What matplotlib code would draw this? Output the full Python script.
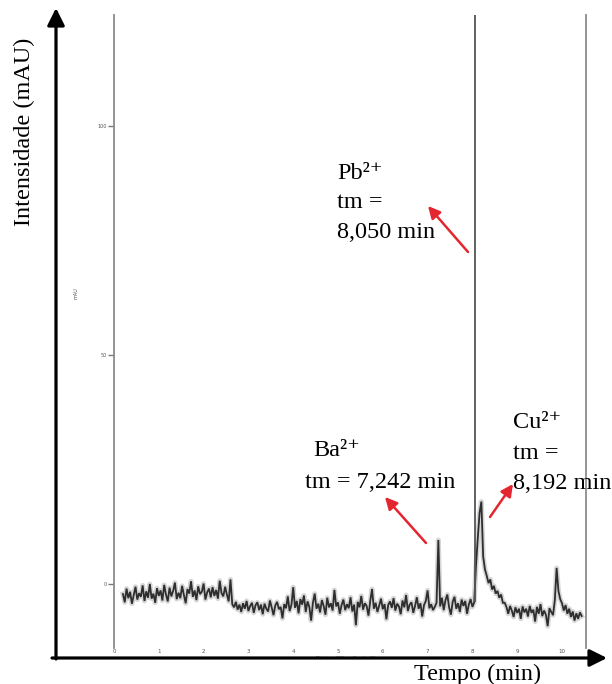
import numpy as np
import matplotlib
matplotlib.use('Agg')
import matplotlib.pyplot as plt

plt.rcParams['font.family'] = ['Liberation Serif', 'DejaVu Serif']

# ---------------- data ----------------
t_start = 0.20      # min
t_step = 0.04       # min
signal = [
    # 0.20 - 1.16
    -2.2, -4.0, -1.0, -3.1, -1.7, -4.3, -2.4, -0.6, -3.4, -2.0, -2.8, -0.3, -3.7,
    -1.6, -3.0, 0.0, -3.2, -2.1, -4.1, -0.9, -2.6, -1.4, -3.6, -0.2, -2.3,
    # 1.20 - 2.16
    -3.8, -0.8, -2.7, -1.5, 0.3, -3.3, -1.9, -3.1, -0.4, -2.4, -4.2, -1.1, -2.1,
    0.6, -2.8, -1.4, -3.5, -0.5, -2.2, -1.7, 0.1, -3.4, -1.8, -1.0, -2.9,
    # 2.20 - 3.16
    -0.7, -2.6, -1.3, -3.2, 0.7, -2.0, -2.7, -0.6, -2.3, -3.8, 1.0, -4.4, -5.1,
    -3.9, -5.6, -4.5, -6.1, -4.2, -5.4, -3.7, -5.9, -4.8, -4.1, -6.3, -4.6,
    # 3.20 - 4.16
    -4.0, -5.7, -4.5, -6.6, -4.3, -5.4, -6.0, -3.6, -5.1, -6.8, -4.7, -3.9, -5.5,
    -5.0, -7.5, -4.4, -5.3, -2.7, -5.9, -4.6, -0.7, -5.2, -3.7, -6.4, -3.3,
    # 4.20 - 5.16
    -4.5, -2.5, -6.1, -3.8, -5.0, -8.0, -4.1, -2.1, -5.4, -4.3, -6.2, -3.5, -4.8,
    -6.7, -3.0, -5.1, -4.2, -5.8, -1.3, -4.9, -4.0, -6.5, -4.6, -3.4, -5.7,
    # 5.20 - 6.16
    -4.4, -5.3, -2.9, -6.0, -4.5, -9.0, -3.9, -5.1, -2.6, -5.6, -4.2, -4.8, -6.9,
    -3.7, -1.1, -5.4, -4.1, -6.1, -4.7, -3.2, -5.5, -4.4, -7.7, -4.6, -3.8,
    # 6.20 - 7.16
    -5.2, -3.1, -5.8, -4.3, -4.9, -6.6, -3.6, -5.1, -2.4, -5.9, -4.5, -4.0, -6.3,
    -4.8, -2.9, -5.4, -4.2, -7.1, -4.6, -3.7, -1.4, -5.3, -4.4, -5.7, -5.0,
    # 7.20 - 8.16  (Ba2+ peak at 7.24)
    -4.1, 9.6, -4.9, -3.0, -5.7, -3.5, -2.3, -5.1, -6.7, -3.9, -2.8, -5.4, -4.2,
    -6.1, -3.4, -4.8, -3.7, -6.5, -4.5, -3.3, -5.0, -4.0, 4.0, 10.0, 15.5,
    # 8.20 - 9.16  (Cu2+ peak at 8.20)
    18.0, 6.0, 3.2, 1.8, 0.2, 1.0, -1.2, -0.4, -2.1, -1.5, -3.0, -2.3, -4.1,
    -4.1, -5.0, -6.5, -4.8, -5.8, -7.2, -5.1, -6.3, -5.4, -7.6, -4.9, -6.2,
    # 9.20 - 10.16
    -5.4, -7.1, -4.8, -6.3, -5.6, -8.2, -5.0, -6.5, -4.4, -7.0, -5.8, -6.7, -9.2,
    -5.3, -6.1, -6.8, -3.5, 3.5, -1.5, -3.3, -4.2, -5.8, -4.6, -6.5, -5.4,
    # 10.20 - 10.44
    -7.2, -6.0, -8.0, -6.4, -7.6, -6.2, -7.0,
]
time = t_start + t_step * np.arange(len(signal))

# Pb2+ peak: off-scale, drawn as a single vertical stroke
pb_time = 8.05
pb_base = -4.0
pb_top = 400.0

x_ticks = list(range(11))
y_ticks = [0, 50, 100]

ion_labels = ['Pb²⁺', 'Ba²⁺', 'Cu²⁺']
migration_times = ['8,050', '7,242', '8,192']

# ---------------- figure ----------------
W, H = 612, 684
fig = plt.figure(figsize=(W / 100, H / 100), dpi=100)
fig.patch.set_facecolor('white')

ax = fig.add_axes([114 / W, 1 - 648 / H, (586 - 114) / W, (648 - 15) / H])
ax.plot(time, signal, color='#8a8a8a', lw=3.6, alpha=0.35,
        solid_joinstyle='round')
ax.plot(time, signal, color='#2e2e2e', lw=1.3, solid_joinstyle='miter')
ax.vlines(pb_time, pb_base, pb_top, color='#555555', lw=1.3)
ax.set_xlim(0, (586 - 114) / 44.8)
ax.set_ylim((584 - 648) / 4.58, (584 - 15) / 4.58)
for s in ('top', 'bottom'):
    ax.spines[s].set_visible(False)
for s in ('left', 'right'):
    ax.spines[s].set_color('#8c8c8c')
    ax.spines[s].set_linewidth(1.3)
ax.set_xticks(x_ticks)
ax.set_xticklabels([str(v) for v in x_ticks], fontsize=4, color='#555555',
                   family='DejaVu Sans')
ax.tick_params(axis='x', length=0, pad=1)
ax.set_yticks(y_ticks)
ax.set_yticklabels([str(v) for v in y_ticks], fontsize=3.5, color='#555555',
                   family='DejaVu Sans')
ax.tick_params(axis='y', length=4, width=1, color='#777777', pad=1)
ax.set_xlabel('Minutes - 200 nm Band = 10 nm', fontsize=3, color='#555555',
              family='DejaVu Sans', labelpad=1)

# ---------------- overlay (outer arrows and annotations) ----------------
ov = fig.add_axes([0, 0, 1, 1], zorder=5)
ov.set_xlim(0, W)
ov.set_ylim(H, 0)
ov.axis('off')
ov.patch.set_alpha(0)

black = dict(arrowstyle='-|>', lw=2.3, color='black', mutation_scale=26,
             shrinkA=0, shrinkB=0)
ov.annotate('', xy=(56, 8), xytext=(56, 659), arrowprops=black)
ov.annotate('', xy=(607, 658), xytext=(52, 658), arrowprops=black)

fs = 17.5
ov.text(24, 38, 'Intensidade (mAU)', rotation=90, fontsize=fs,
        ha='center', va='top')
ov.text(414, 680, 'Tempo (min)', fontsize=fs, ha='left', va='baseline')
ov.text(76, 293, 'mAU', rotation=90, fontsize=3.5, color='#555555',
        ha='center', va='center', family='DejaVu Sans')

# Pb
ov.text(337, 179, ion_labels[0], fontsize=fs, va='baseline')
ov.text(337, 208, 'tm =', fontsize=fs, va='baseline')
ov.text(337, 238, migration_times[0] + ' min', fontsize=fs, va='baseline')
# Ba
ov.text(313, 456, ion_labels[1], fontsize=fs, va='baseline')
ov.text(305, 488, 'tm = ' + migration_times[1] + ' min', fontsize=fs,
        va='baseline')
# Cu
ov.text(513, 428, ion_labels[2], fontsize=fs, va='baseline')
ov.text(513, 459, 'tm =', fontsize=fs, va='baseline')
ov.text(513, 489, migration_times[2] + ' min', fontsize=fs, va='baseline')

red = dict(arrowstyle='-|>', lw=1.8, color='#e3262f', mutation_scale=18,
           shrinkA=0, shrinkB=0)
ov.annotate('', xy=(428, 206), xytext=(468, 252), arrowprops=red)
ov.annotate('', xy=(385, 497), xytext=(426, 543), arrowprops=red)
ov.annotate('', xy=(513, 484), xytext=(490, 517), arrowprops=red)

fig.savefig('out.png', dpi=100)
